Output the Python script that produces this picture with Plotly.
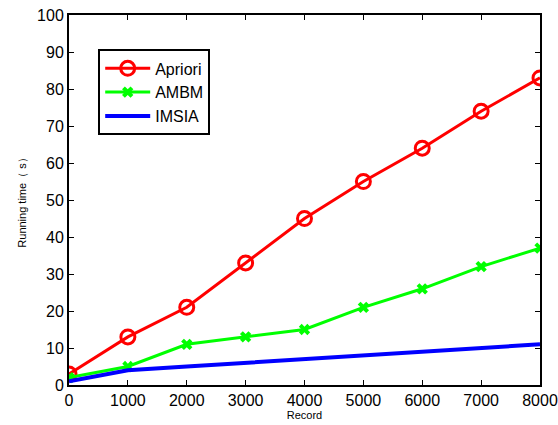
import plotly.graph_objects as go

records = [0, 1000, 2000, 3000, 4000, 5000, 6000, 7000, 8000]
apriori = [3, 13, 21, 33, 45, 55, 64, 74, 83]
ambm = [2, 5, 11, 13, 15, 21, 26, 32, 37]
imsia = [1, 4, 5, 6, 7, 8, 9, 10, 11]
x_ticks = [0, 1000, 2000, 3000, 4000, 5000, 6000, 7000, 8000]
y_ticks = [0, 10, 20, 30, 40, 50, 60, 70, 80, 90, 100]

fig = go.Figure()
fig.add_trace(go.Scatter(x=records, y=apriori, name="Apriori", mode="lines+markers",
                         line=dict(color="#ff0000", width=3),
                         marker=dict(symbol="circle-open", size=14, color="#ff0000", line=dict(width=3))))
fig.add_trace(go.Scatter(x=records, y=ambm, name="AMBM", mode="lines+markers",
                         line=dict(color="#00ff00", width=3),
                         marker=dict(symbol="x", size=10, color="#00ff00", line=dict(width=0))))
fig.add_trace(go.Scatter(x=records, y=imsia, name="IMSIA", mode="lines",
                         line=dict(color="#0000ff", width=4)))

axis_common = dict(showline=True, linecolor="black", linewidth=2, mirror="ticks", ticks="inside",
                   ticklen=5, tickwidth=1, tickcolor="black", showgrid=False, zeroline=False,
                   automargin=False, tickfont=dict(family="Arial", size=16, color="black"))
fig.update_xaxes(range=[0, 8000], tickvals=x_ticks, title=dict(text="Record", standoff=2,
                 font=dict(family="Arial", size=11, color="black")), **axis_common)
fig.update_yaxes(range=[0, 100], tickvals=y_ticks, title=dict(text="Running time（ s）", standoff=8,
                 font=dict(family="Arial", size=11, color="black")), **axis_common)

fig.update_layout(
    width=558, height=425, plot_bgcolor="white", paper_bgcolor="white",
    margin=dict(l=69, r=18, t=15, b=40),
    legend=dict(x=0.062, y=0.907, xanchor="left", yanchor="top", bordercolor="black", borderwidth=2,
                bgcolor="white", font=dict(family="Arial", size=16, color="black"),
                tracegroupgap=0, itemwidth=45),
    showlegend=True,
)
fig.write_html("out.html", config={"displayModeBar": False},
               post_script="document.body.style.margin='0';document.body.style.overflow='hidden';")
